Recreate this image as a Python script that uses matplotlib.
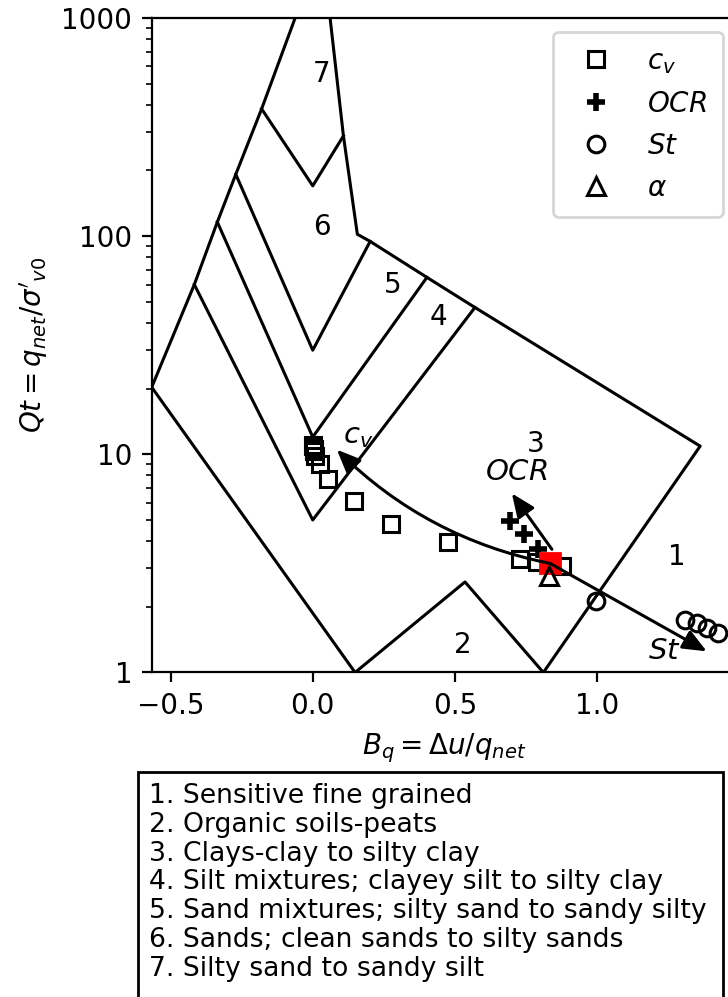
import matplotlib
matplotlib.use("Agg")
import matplotlib.pyplot as plt
from matplotlib.patches import Rectangle
from matplotlib.ticker import FuncFormatter

# zone boundaries of the classification chart (Bq, Qt)
left_edge_bq = [-0.567, -0.417, -0.336, -0.271, -0.180, -0.062]
left_edge_qt = [20.3, 60.0, 116.0, 192.0, 383.0, 1000.0]
right_edge_bq = [0.061, 0.108, 0.157, 0.202, 0.402, 0.571, 1.364, 0.812]
right_edge_qt = [1000.0, 288.0, 102.0, 94.6, 64.7, 47.1, 10.9, 1.0]
lower_edge_bq = [-0.567, 0.149]
lower_edge_qt = [20.3, 1.0]
zone2_top_bq = [0.149, 0.536, 0.812]
zone2_top_qt = [1.0, 2.6, 1.0]
zone7_base_bq = [-0.180, 0.0, 0.108]
zone7_base_qt = [383.0, 170.0, 288.0]
zone6_base_bq = [-0.271, 0.0, 0.202]
zone6_base_qt = [192.0, 30.0, 94.6]
zone5_base_bq = [-0.336, 0.0, 0.402]
zone5_base_qt = [116.0, 12.0, 64.7]
zone4_base_bq = [-0.417, 0.0, 0.571]
zone4_base_qt = [60.0, 5.0, 47.1]

zone_ids = ["1", "2", "3", "4", "5", "6", "7"]
zone_bq = [1.283, 0.529, 0.786, 0.441, 0.283, 0.033, 0.030]
zone_qt = [3.37, 1.33, 11.1, 42.5, 60.0, 110.0, 553.0]

# measured points
cv_bq = [0.000, 0.002, 0.003, 0.005, 0.008, 0.026, 0.055, 0.145, 0.275, 0.477, 0.730, 0.791, 0.877]
cv_qt = [11.0, 10.9, 10.6, 10.3, 9.83, 9.0, 7.74, 6.1, 4.77, 3.96, 3.32, 3.21, 3.07]
ocr_bq = [0.695, 0.743, 0.794]
ocr_qt = [4.94, 4.30, 3.67]
st_bq = [0.998, 1.311, 1.352, 1.387, 1.428]
st_qt = [2.12, 1.74, 1.68, 1.60, 1.52]
alpha_bq = [0.833]
alpha_qt = [2.77]
site_bq = [0.836]
site_qt = [3.16]

soil_types = [
    "1. Sensitive fine grained",
    "2. Organic soils-peats",
    "3. Clays-clay to silty clay",
    "4. Silt mixtures; clayey silt to silty clay",
    "5. Sand mixtures; silty sand to sandy silty",
    "6. Sands; clean sands to silty sands",
    "7. Silty sand to sandy silt",
]

fig = plt.figure(figsize=(3.64, 4.985), dpi=200)
ax = fig.add_axes([0.2084, 0.3255, 0.8033, 0.6565])

for bq, qt in [(left_edge_bq, left_edge_qt), (right_edge_bq, right_edge_qt),
               (lower_edge_bq, lower_edge_qt), (zone2_top_bq, zone2_top_qt),
               (zone7_base_bq, zone7_base_qt), (zone6_base_bq, zone6_base_qt),
               (zone5_base_bq, zone5_base_qt), (zone4_base_bq, zone4_base_qt)]:
    ax.plot(bq, qt, color="k", lw=1.1)

for zid, bq, qt in zip(zone_ids, zone_bq, zone_qt):
    ax.text(bq, qt, zid, fontsize=10, ha="center", va="center")

ax.plot(cv_bq, cv_qt, "s", mfc="none", mec="k", ms=6, mew=1.1, label="$c_v$")
ax.plot(ocr_bq, ocr_qt, "+", color="k", ms=6.5, mew=2, label="$OCR$")
ax.plot(st_bq, st_qt, "o", mfc="none", mec="k", ms=6, mew=1.1, label="$St$")
ax.plot(site_bq, site_qt, "s", color="red", ms=7.5)
ax.plot(alpha_bq, alpha_qt, "^", mfc="none", mec="k", ms=6.5, mew=1.1, label=r"$\alpha$")

arrow = dict(arrowstyle="-|>,head_length=0.4,head_width=0.17", color="k", lw=1.1,
             mutation_scale=18, shrinkA=0, shrinkB=0)
ax.annotate("", xy=(0.085, 10.5), xytext=(site_bq[0], site_qt[0]),
            arrowprops=dict(arrow, connectionstyle="arc3,rad=-0.15"))
ax.annotate("", xy=(0.701, 6.62), xytext=(0.842, 3.67), arrowprops=arrow)
ax.annotate("", xy=(1.387, 1.25), xytext=(site_bq[0], site_qt[0]), arrowprops=arrow)
ax.text(0.16, 12.1, "$c_v$", fontsize=10.5, ha="center", va="center")
ax.text(0.716, 8.27, "$OCR$", fontsize=10.5, ha="center", va="center")
ax.text(1.237, 1.26, "$St$", fontsize=10.5, ha="center", va="center")

ax.set_yscale("log")
ax.set_xlim(-0.567, 1.492)
ax.set_ylim(1, 1000)
ax.yaxis.set_major_formatter(FuncFormatter(lambda v, p: "%d" % v))
ax.set_xticks([-0.5, 0.0, 0.5, 1.0])
ax.set_xlabel(r"$B_q = \Delta u/q_{net}$", fontsize=10)
ax.set_ylabel(r"$Qt = q_{net}/\sigma'_{v0}$", fontsize=10)
ax.legend(loc="upper right", fontsize=10, borderpad=0.55, labelspacing=0.5,
          handletextpad=0.85)

# soil type key below the chart (box runs past the bottom edge)
fig.patches.append(Rectangle((0.1896, -0.02), 0.8031, 0.246, transform=fig.transFigure,
                             fc="white", ec="black", lw=1))
fig.text(0.2052, 0.2146, "\n".join(soil_types), fontsize=9.6, ha="left", va="top",
         linespacing=1.14)

fig.savefig("out.png", dpi=200)
